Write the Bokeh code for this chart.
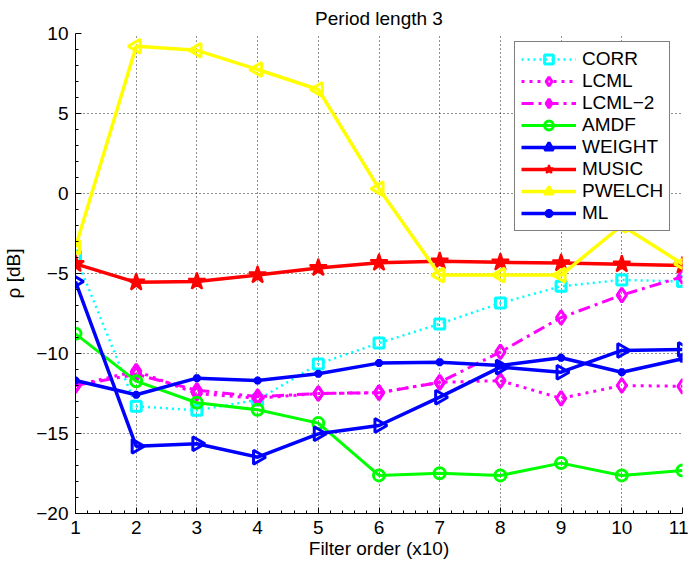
import numpy as np
from bokeh.plotting import figure
from bokeh.models import Range1d, FixedTicker, Legend, LegendItem
from bokeh.embed import file_html
from bokeh.resources import INLINE

# ---- data ----
filter_order = [1, 2, 3, 4, 5, 6, 7, 8, 9, 10, 11]
corr = [-3.9, -13.3, -13.55, -12.9, -10.65, -9.35, -8.15, -6.85, -5.8, -5.4, -5.5]
lcml = [-12.0, -11.1, -12.5, -12.8, -12.5, -12.45, -11.8, -11.7, -12.8, -12.0, -12.05]
lcml2 = [-12.0, -11.3, -12.3, -12.7, -12.5, -12.45, -11.8, -9.9, -7.75, -6.35, -5.2]
amdf = [-8.77, -11.73, -13.08, -13.52, -14.35, -17.62, -17.48, -17.62, -16.85, -17.62, -17.31]
weight = [-5.5, -15.8, -15.64, -16.48, -15.02, -14.5, -12.73, -10.85, -11.17, -9.81, -9.75]
music = [-4.4, -5.55, -5.5, -5.1, -4.65, -4.33, -4.23, -4.3, -4.35, -4.42, -4.5]
pwelch = [-3.35, 9.2, 8.95, 7.75, 6.5, 0.3, -5.1, -5.1, -5.1, -2.0, -4.4]
ml = [-11.69, -12.58, -11.54, -11.69, -11.27, -10.6, -10.54, -10.75, -10.27, -11.17, -10.33]

labels = ["CORR", "LCML", "LCML\u22122", "AMDF", "WEIGHT", "MUSIC", "PWELCH", "ML"]
x_ticks = [1, 2, 3, 4, 5, 6, 7, 8, 9, 10, 11]
y_ticks = [-20, -15, -10, -5, 0, 5, 10]
y_tick_labels = ["\u221220", "\u221215", "\u221210", "\u22125", "0", "5", "10"]

FONT = "Liberation Sans"
FS = "19px"

p = figure(width=688, height=565, output_backend="svg", toolbar_location=None,
           x_range=Range1d(1, 11), y_range=Range1d(-20, 10),
           min_border_left=74, min_border_right=6, min_border_top=33, min_border_bottom=52,
           title="Period length 3")
p.outline_line_color = None
p.background_fill_color = "white"
p.border_fill_color = "white"

p.title.align = "center"
p.title.text_font = FONT
p.title.text_font_size = FS
p.title.text_font_style = "normal"
p.title.text_color = "black"
p.title.standoff = 10

x_minor = [a + k * 0.2 for a in x_ticks[:-1] for k in range(1, 5)]
y_minor = [a + k for a in y_ticks[:-1] for k in range(1, 5)]
p.xaxis.ticker = FixedTicker(ticks=x_ticks, minor_ticks=x_minor)
p.yaxis.ticker = FixedTicker(ticks=y_ticks, minor_ticks=y_minor)
p.yaxis.major_label_overrides = {t: s for t, s in zip(y_ticks, y_tick_labels)}

for ax in (p.xaxis[0], p.yaxis[0]):
    ax.major_tick_in = 6
    ax.major_tick_out = 0
    ax.minor_tick_in = 3
    ax.minor_tick_out = 0
    ax.axis_line_color = "black"
    ax.major_tick_line_color = "black"
    ax.minor_tick_line_color = "black"
    ax.major_label_text_font = FONT
    ax.major_label_text_font_size = FS
    ax.major_label_text_color = "black"
    ax.axis_label_text_font = FONT
    ax.axis_label_text_font_size = FS
    ax.axis_label_text_font_style = "normal"
    ax.axis_label_text_color = "black"

p.xaxis.axis_label = "Filter order (x10)"
p.yaxis.axis_label = "\u03c1 [dB]"
p.xaxis.major_label_standoff = 7
p.xaxis.axis_label_standoff = 1
p.yaxis.major_label_standoff = 7
p.yaxis.axis_label_standoff = 9

p.xgrid.ticker = FixedTicker(ticks=x_ticks)
p.ygrid.ticker = FixedTicker(ticks=y_ticks)
for g in (p.xgrid[0], p.ygrid[0]):
    g.grid_line_color = "#222222"
    g.grid_line_width = 1
    g.grid_line_dash = "1 3"

series = [corr, lcml, lcml2, amdf, weight, music, pwelch, ml]
styles = [
    dict(color="#00FFFF", lw=2.5, dash="2 4", marker="square", size=10, mlw=3, fill=None, angle=0),
    dict(color="#FF00FF", lw=3, dash="3 5", marker="diamond", size=14, mlw=3, fill=None, angle=0),
    dict(color="#FF00FF", lw=3, dash="12 5 3 5", marker="diamond", size=14, mlw=3, fill=None, angle=0),
    dict(color="#00FF00", lw=3, dash="solid", marker="circle", size=11, mlw=3, fill=None, angle=0),
    dict(color="#0000FF", lw=3.5, dash="solid", marker="triangle", size=14, mlw=3, fill=None, angle=-np.pi / 2),
    dict(color="#FF0000", lw=3.5, dash="solid", marker="star", size=18, mlw=2, fill="#FF0000", angle=0),
    dict(color="#FFFF00", lw=3.5, dash="solid", marker="triangle", size=14, mlw=3, fill=None, angle=np.pi / 2),
    dict(color="#0000FF", lw=3.5, dash="solid", marker="asterisk", size=8, mlw=3, fill=None, angle=0),
]

items = []
for lab, ys, st in zip(labels, series, styles):
    ln = p.line(filter_order, ys, line_color=st["color"], line_width=st["lw"], line_dash=st["dash"])
    mk = p.scatter(filter_order, ys, marker=st["marker"], size=st["size"], angle=st["angle"],
                   line_color=st["color"], line_width=st["mlw"],
                   fill_color=st["fill"], fill_alpha=1.0 if st["fill"] else 0.0)
    items.append(LegendItem(label=lab, renderers=[ln, mk]))

legend = Legend(items=items, location=(439, 282))
legend.border_line_color = "black"
legend.border_line_width = 1
legend.background_fill_color = "white"
legend.background_fill_alpha = 1.0
legend.label_text_font = FONT
legend.label_text_font_size = FS
legend.label_text_color = "black"
legend.glyph_width = 55
legend.glyph_height = 22
legend.label_height = 22
legend.label_standoff = 6
legend.spacing = 0
legend.padding = 6
legend.margin = 0
p.add_layout(legend)

open("out.html", "w").write(file_html(p, INLINE))
